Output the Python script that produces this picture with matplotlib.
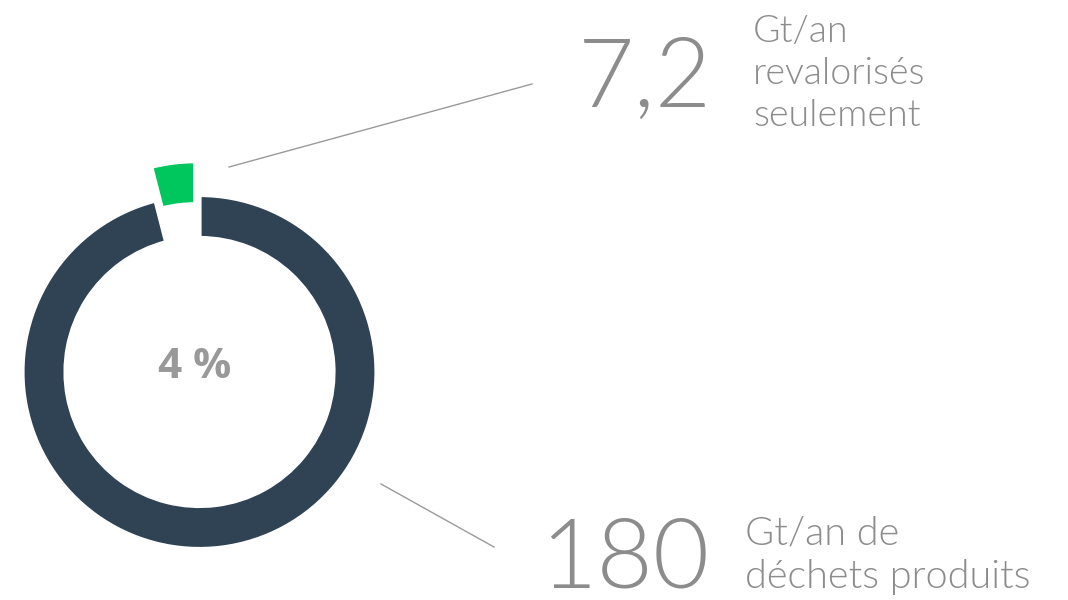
import matplotlib.pyplot as plt
from matplotlib import font_manager

# waste figures, Gt per year
total_waste = 180
recovered = 7.2
share = recovered / total_waste

slices = [recovered, total_waste - recovered]
slice_colours = ["#00c65e", "#304354"]
explode = [34, 0]  # pie() offsets exploded wedges in data units

big_numbers = ["7,2", "180"]
captions = [["Gt/an", "revalorisés", "seulement"], ["Gt/an de", "déchets produits"]]
centre_label = f"{share * 100:.0f} %"

text_grey = "#8c8c8c"
families = [f.name for f in font_manager.fontManager.ttflist]
face = "Lato" if "Lato" in families else "DejaVu Sans"
bold_face = "Open Sans" if "Open Sans" in families else "DejaVu Sans"

fig = plt.figure(figsize=(10.68, 6), dpi=100)
ax = fig.add_axes([0, 0, 1, 1])

# donut centred at pixel (199, 372) from the top-left corner
cx, cy, R = 199.5, 600 - 372, 177
ax.pie(
    slices,
    colors=slice_colours,
    explode=explode,
    startangle=90,
    counterclock=True,
    center=(cx, cy),
    radius=R,
    frame=True,
    wedgeprops=dict(width=43, edgecolor="white", linewidth=3),
)
ax.set_xlim(0, 1068)
ax.set_ylim(0, 600)
ax.set_aspect("equal")
ax.axis("off")

ax.text(cx - 5, cy + 5, centre_label, ha="center", va="center", fontsize=30.5,
        fontweight="bold", color="#999999", family=bold_face)

# leader lines
ax.plot([229, 532], [600 - 167, 600 - 84], color="#9a9a9a", lw=1)
ax.plot([381, 494], [600 - 484, 600 - 547], color="#9a9a9a", lw=1)

ax.text(578, 600 - 107, big_numbers[0], ha="left", va="baseline", fontsize=70,
        fontweight=300, color=text_grey, family=face)
for i, line in enumerate(captions[0]):
    ax.text(753, 600 - 42 - 42 * i, line, ha="left", va="baseline", fontsize=27,
            fontweight=300, color=text_grey, family=face)

ax.text(540, 600 - 588, big_numbers[1], ha="left", va="baseline", fontsize=70,
        fontweight=300, color=text_grey, family=face)
for i, line in enumerate(captions[1]):
    ax.text(745, 600 - 545 - 43 * i, line, ha="left", va="baseline", fontsize=28.5,
            fontweight=300, color=text_grey, family=face)

fig.savefig("out.png", dpi=100, facecolor="white")
